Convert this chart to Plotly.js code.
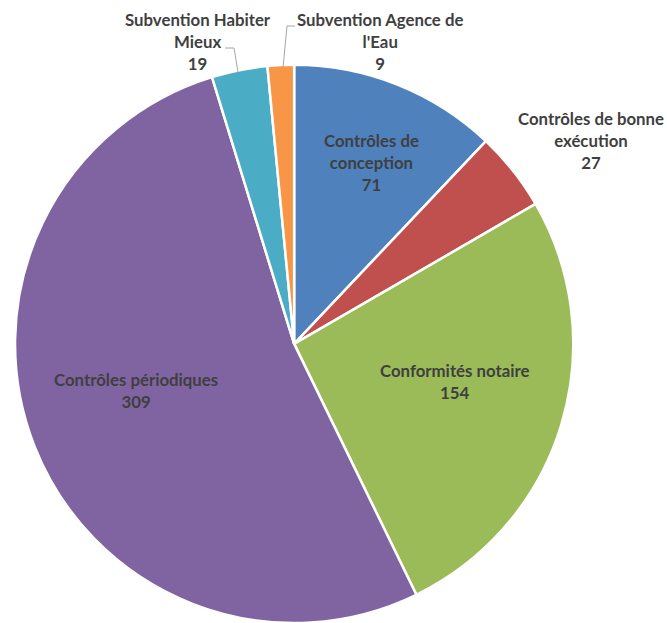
<!DOCTYPE html>
<html>
<head>
<meta charset="utf-8">
<script src="https://cdn.plot.ly/plotly-3.0.1.min.js"></script>
<style>html,body{margin:0;padding:0;background:#fff;}#chart{width:667px;height:623px;}</style>
</head>
<body>
<div id="chart"></div>
<script>
var labels = ["Contrôles de conception", "Contrôles de bonne exécution", "Conformités notaire", "Contrôles périodiques", "Subvention Habiter Mieux", "Subvention Agence de l'Eau"];
var labelLines = [["Contrôles de", "conception"], ["Contrôles de bonne", "exécution"], ["Conformités notaire"], ["Contrôles périodiques"], ["Subvention Habiter", "Mieux"], ["Subvention Agence de", "l'Eau"]];
var values = [71, 27, 154, 309, 19, 9];
var colors = ["#4F81BD", "#C0504D", "#9BBB59", "#8064A2", "#4BACC6", "#F79646"];

var W = 667, H = 623;
// label centre positions in pixels
var labelPos = [[371, 163], [591, 140], [454, 381], [136, 390], [198, 42], [380, 42]];

var annotations = labels.map(function (l, i) {
  return {
    text: labelLines[i].concat([String(values[i])]).join("<br>"),
    x: labelPos[i][0] / W, y: 1 - labelPos[i][1] / H,
    xref: "paper", yref: "paper", xanchor: "center", yanchor: "middle",
    showarrow: false, align: "center",
    font: {family: "Lato, 'Open Sans', sans-serif", size: 16.8, color: "#3f3f3f", weight: 700}
  };
});

function pl(x0, y0, x1, y1) {
  return {type: "line", xref: "paper", yref: "paper", x0: x0 / W, y0: 1 - y0 / H, x1: x1 / W, y1: 1 - y1 / H,
    line: {color: "#a6a6a6", width: 1}};
}
var shapes = [pl(225, 48, 234, 48), pl(234, 48, 238, 72), pl(295, 26, 287, 26), pl(287, 26, 283, 68)];

var data = [{
  type: "pie",
  labels: labels,
  values: values,
  sort: false,
  direction: "clockwise",
  rotation: 0,
  textinfo: "none",
  hoverinfo: "label+value",
  marker: {colors: colors, line: {color: "#ffffff", width: 2.5}},
  domain: {x: [0.021, 0.861], y: [0, 0.896]},
  showlegend: false
}];

var layout = {
  width: W, height: H,
  margin: {l: 0, r: 0, t: 0, b: 0},
  paper_bgcolor: "#ffffff",
  showlegend: false,
  annotations: annotations,
  shapes: shapes
};
Plotly.newPlot("chart", data, layout, {displayModeBar: false, staticPlot: true});
</script>
</body>
</html>
